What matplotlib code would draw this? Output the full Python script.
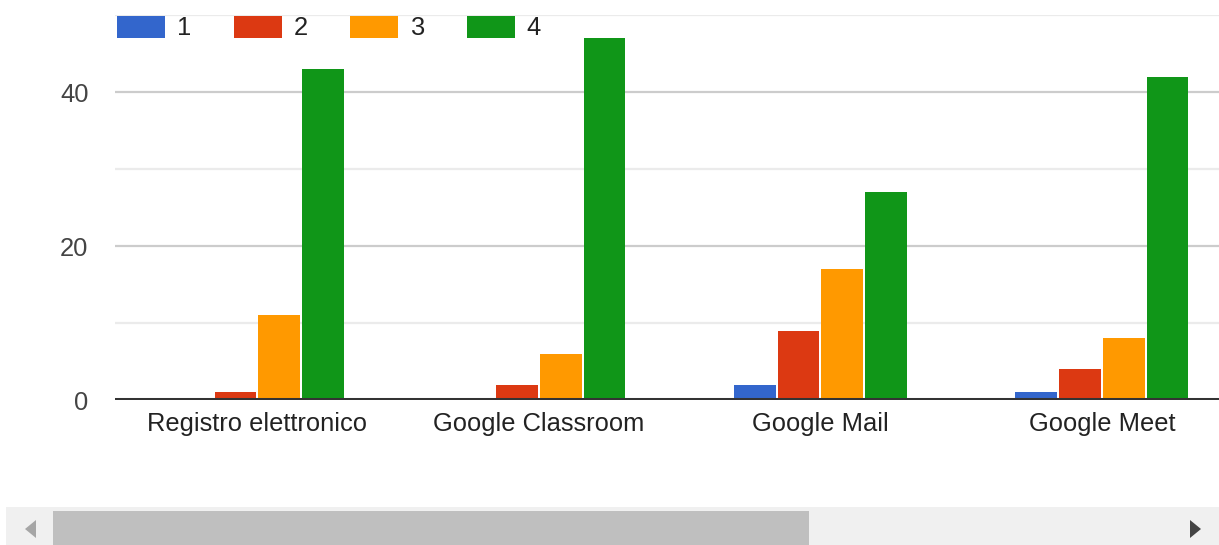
import matplotlib.pyplot as plt
from matplotlib.patches import Rectangle, Polygon
import numpy as np

categories = ["Registro elettronico", "Google Classroom", "Google Mail", "Google Meet"]
series_names = ["1", "2", "3", "4"]
values_1 = [0, 0, 2, 1]
values_2 = [1, 2, 9, 4]
values_3 = [11, 6, 17, 8]
values_4 = [43, 47, 27, 42]
colors = ["#3366cc", "#dc3912", "#ff9900", "#109618"]

plt.rcParams['font.family'] = ['Liberation Sans', 'DejaVu Sans']

W, H = 1219, 545
fig = plt.figure(figsize=(W / 100, H / 100), dpi=100)
ax = fig.add_axes([115 / W, 1 - 400 / H, 1 - 115 / W, (400 - 15) / H])

x = np.arange(len(categories))
step = 0.1555
width = 0.148
all_values = [values_1, values_2, values_3, values_4]
for i, (vals, name, c) in enumerate(zip(all_values, series_names, colors)):
    ax.bar(x + (i - 1.5) * step, vals, width, color=c, label=name, zorder=3)

ax.set_xlim(-0.506, 3.416)
ax.set_ylim(0, 50)

# grid lines
ax.set_yticks([0, 20, 40])
ax.set_yticks([10, 30, 50], minor=True)
ax.grid(True, axis='y', which='major', color='#cccccc', linewidth=1.6, zorder=0)
ax.grid(True, axis='y', which='minor', color='#ebebeb', linewidth=1.6, zorder=0)
ax.axhline(0, color='#333333', linewidth=2.9, zorder=4)

fs = 18.4
ax.set_xticks(x)
ax.set_xticklabels(categories)
ax.tick_params(axis='x', length=0, pad=9, labelsize=fs, labelcolor='#222222')
ax.tick_params(axis='y', which='both', length=0, pad=19, labelsize=fs, labelcolor='#444444')
for s in ax.spines.values():
    s.set_visible(False)

leg = ax.legend(loc='center left', bbox_to_anchor=(117 / W, 1 - 28 / H),
                bbox_transform=fig.transFigure, ncol=4, frameon=False,
                fontsize=fs, handlelength=1.88, handleheight=0.94,
                handletextpad=0.45, columnspacing=1.68, borderpad=0, borderaxespad=0)
for t in leg.get_texts():
    t.set_color('#222222')

# scrollbar
fig.patches.append(Rectangle((6 / W, 0), 1 - 6 / W, 38 / H, transform=fig.transFigure,
                             facecolor='#f0f0f0', edgecolor='none'))
fig.patches.append(Rectangle((53 / W, 0), (809 - 53) / W, 34 / H, transform=fig.transFigure,
                             facecolor='#bfbfbf', edgecolor='none'))
fig.patches.append(Polygon([(25 / W, 1 - 529 / H), (36 / W, 1 - 520 / H), (36 / W, 1 - 538 / H)],
                           closed=True, transform=fig.transFigure, facecolor='#a6a6a6', edgecolor='none'))
fig.patches.append(Polygon([(1201 / W, 1 - 529 / H), (1190 / W, 1 - 520 / H), (1190 / W, 1 - 538 / H)],
                           closed=True, transform=fig.transFigure, facecolor='#444444', edgecolor='none'))

fig.savefig("out.png", dpi=100)
